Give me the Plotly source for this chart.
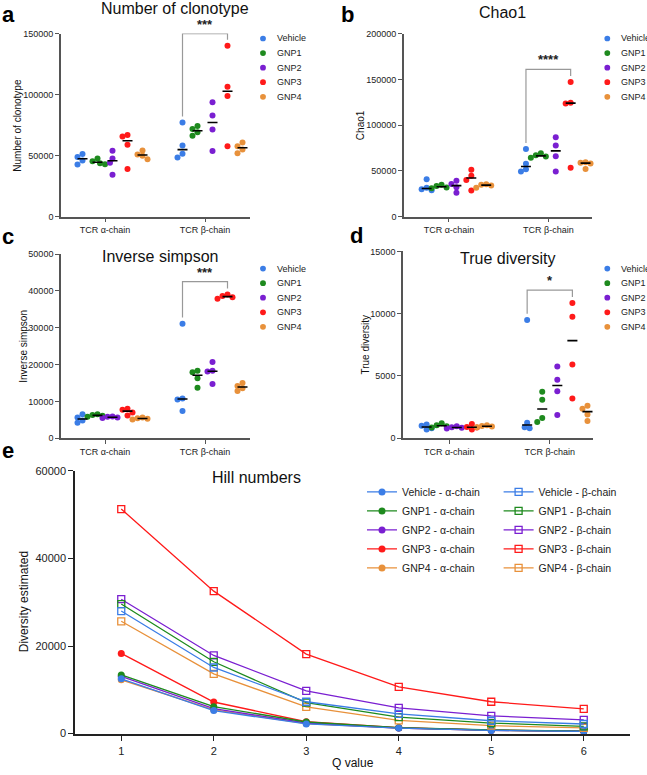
import numpy as np
import plotly.graph_objects as go

W, H = 647, 775
FONT = "Liberation Sans, Arial, Helvetica, sans-serif"
AX = "#555555"

# ---------------- data ----------------
groups = ["Vehicle", "GNP1", "GNP2", "GNP3", "GNP4"]
colors = ["#3B7DE6", "#1E8A1E", "#7A1FD1", "#FF1A1A", "#E8913B"]
chain_labels = ["TCR α-chain", "TCR β-chain"]

# a: Number of clonotype (4 mice per group)
clono_alpha = [[48900, 51400, 46000, 42700], [47600, 45400, 43800, 43000],
               [54000, 47600, 44100, 34400], [66900, 65600, 58900, 39000],
               [54300, 51000, 50000, 47000]]
clono_beta = [[77200, 58300, 51600, 48400], [74200, 71800, 69100, 66400],
              [93800, 82800, 71500, 53800], [140000, 106500, 98900, 57800],
              [60800, 57800, 55100, 51900]]

# b: Chao1
chao_alpha = [[41000, 31500, 30000, 29000], [35000, 33500, 32000, 31000],
              [39300, 35700, 32100, 26100], [51400, 44600, 40000, 28600],
              [35500, 35000, 34000, 31500]]
chao_beta = [[73900, 57800, 51800, 49300], [69300, 67100, 65700, 64300],
             [86700, 77800, 66000, 49300], [147000, 124500, 123500, 53500],
             [59500, 59000, 58000, 52000]]

# c: Inverse simpson
invs_alpha = [[4200, 4800, 5600, 6500], [6500, 6300, 6100, 5800],
              [5900, 5800, 5600, 5500], [8000, 7700, 7000, 6200],
              [5600, 5400, 5300, 5100]]
invs_beta = [[31100, 10800, 10500, 7400], [18300, 17900, 16300, 13700],
             [20700, 18300, 18100, 14700], [39000, 38600, 38300, 37900],
             [15000, 14200, 13600, 12800]]

# d: True diversity
true_alpha = [[1100, 1000, 800, 700], [1200, 1050, 950, 850],
              [950, 880, 830, 780], [1150, 900, 850, 700],
              [1050, 980, 930, 880]]
true_beta = [[9500, 1250, 870, 800], [3740, 3080, 1620, 1300],
             [5760, 4700, 3770, 1860], [10850, 9760, 5920, 3180],
             [2600, 2360, 1910, 1380]]

# e: Hill numbers
q_values = [1, 2, 3, 4, 5, 6]
hill_alpha = [[12500, 5250, 2200, 1250, 720, 500],
              [13400, 6150, 2650, 1330, 800, 560],
              [13050, 5700, 2400, 1280, 760, 520],
              [18300, 7200, 2700, 1350, 780, 540],
              [12300, 5400, 2300, 1250, 740, 500]]
hill_beta = [[28000, 15100, 7270, 4500, 2930, 2180],
             [29600, 16400, 7050, 3750, 2400, 1650],
             [30700, 17850, 9750, 5850, 4050, 3150],
             [51300, 32550, 18150, 10650, 7270, 5625],
             [25650, 13650, 6080, 3000, 1800, 1280]]

# ---------------- layout helpers ----------------
group_offsets = [-0.225, -0.075, 0.075, 0.225, 0.375]


def pxx(p):
    return p / W


def pxy(p):
    return 1 - p / H


def swarm(vals, ppv, ppx, dmin=5.0, step=2.5):
    vals = np.asarray(vals, float)
    order = np.argsort(vals)[::-1]
    placed = []
    offs = [0.0] * len(vals)
    cands = [0.0]
    for j in range(1, 8):
        cands += [-j * step, j * step]
    for i in order:
        py = vals[i] * ppv
        chosen = cands[-1]
        for c in cands:
            if all((c - ox) ** 2 + (py - oy) ** 2 >= dmin ** 2 for ox, oy in placed):
                chosen = c
                break
        placed.append((chosen, py))
        offs[i] = chosen / ppx
    return offs


panels = [
    dict(title="Number of clonotype", alpha=clono_alpha, beta=clono_beta, ymax=150000, dtick=50000,
         stars="***", box=(61, 250, 28, 214), xr=(-0.44, 1.45), title_xy=(175, 2.5), ytitle_x=16.7,
         letter="a", letter_xy=(0, 8.4), legend_xy=(263, 33)),
    dict(title="Chao1", alpha=chao_alpha, beta=chao_beta, ymax=200000, dtick=50000,
         stars="****", box=(404, 592, 28, 214), xr=(-0.453, 1.44), title_xy=(503, 7), ytitle_x=360,
         letter="b", letter_xy=(339, 8.4), legend_xy=(607.3, 33)),
    dict(title="Inverse simpson", alpha=invs_alpha, beta=invs_beta, ymax=50000, dtick=10000,
         stars="***", box=(61, 250, 252, 439), xr=(-0.44, 1.45), title_xy=(160, 254), ytitle_x=22.7,
         letter="c", letter_xy=(0, 234.4), legend_xy=(263, 266.7)),
    dict(title="True diversity", alpha=true_alpha, beta=true_beta, ymax=15000, dtick=5000,
         stars="*", box=(403, 593, 249.3, 439), xr=(-0.46, 1.43), title_xy=(507, 256), ytitle_x=365.7,
         letter="d", letter_xy=(348, 233.4), legend_xy=(607.3, 266.7)),
]

fig = go.Figure()
annotations = []
shapes = []
layout_axes = {}

for pi, p in enumerate(panels):
    sfx = "" if pi == 0 else str(pi + 1)
    xref, yref = "x" + sfx, "y" + sfx
    x0, x1, y0, y1 = p["box"]
    ppx = (x1 - x0) / (p["xr"][1] - p["xr"][0])
    ppv = (y1 - y0) / p["ymax"]
    for ci, chain in enumerate([p["alpha"], p["beta"]]):
        for gi, vals in enumerate(chain):
            center = ci + group_offsets[gi]
            jit = swarm(vals, ppv, ppx)
            fig.add_trace(go.Scatter(
                x=[center + j for j in jit], y=vals, mode="markers", xaxis=xref, yaxis=yref,
                marker=dict(size=6, color=colors[gi], line=dict(width=0)),
                showlegend=False, cliponaxis=False, hoverinfo="y", name=groups[gi]))
        for gi, vals in enumerate(chain):
            center = ci + group_offsets[gi]
            med = float(np.median(vals))
            fig.add_trace(go.Scatter(
                x=[center - 0.05, center + 0.05], y=[med, med], mode="lines", xaxis=xref, yaxis=yref,
                line=dict(color="black", width=1.6), showlegend=False, hoverinfo="skip"))
    # significance bracket Vehicle vs GNP3 (beta chain)
    xa = 1 + group_offsets[0]
    xb = 1 + group_offsets[3]
    va = max(p["beta"][0])
    vb = max(p["beta"][3])
    pad = 0.033 * p["ymax"]
    top = min(max(va, vb) + 0.07 * p["ymax"], p["ymax"])
    shapes.append(dict(type="path", xref=xref, yref=yref,
                       path=f"M {xa},{va + pad} L {xa},{top} L {xb},{top} L {xb},{vb + pad}",
                       line=dict(color="#999999", width=1.2)))
    # star label placed in paper coords so it is never hidden at the range edge
    star_py = y1 - top * ppv
    annotations.append(dict(x=(xa + xb) / 2, y=pxy(star_py), xref=xref, yref="paper", text=p["stars"],
                            showarrow=False, yanchor="bottom", yshift=0,
                            font=dict(size=13, family=FONT, color="#222", weight="bold")))
    # axes
    layout_axes["xaxis" + sfx] = dict(
        domain=[pxx(x0), pxx(x1)], range=list(p["xr"]), anchor=yref, tickvals=[0, 1],
        ticktext=chain_labels, ticks="outside", ticklen=4, tickwidth=1.3, tickcolor=AX,
        showline=True, linecolor=AX, linewidth=1.6, showgrid=False, zeroline=False,
        tickfont=dict(size=9, color="#222", family=FONT), fixedrange=True)
    layout_axes["yaxis" + sfx] = dict(
        domain=[pxy(y1), pxy(y0)], range=[0, p["ymax"]], anchor=xref, dtick=p["dtick"],
        tickformat="d", ticks="outside", ticklen=4, tickwidth=1.3, tickcolor=AX,
        showline=True, linecolor=AX, linewidth=1.6, showgrid=False, zeroline=False,
        tickfont=dict(size=9, color="#222", family=FONT), fixedrange=True)
    # titles
    annotations.append(dict(x=pxx(p["title_xy"][0]), y=pxy(p["title_xy"][1]), xref="paper", yref="paper",
                            text=p["title"], showarrow=False, xanchor="center", yanchor="middle",
                            font=dict(size=16, family=FONT, color="#111")))
    annotations.append(dict(x=pxx(p["ytitle_x"]), y=pxy((y0 + y1) / 2), xref="paper", yref="paper",
                            text=p["title"], showarrow=False, textangle=-90, xanchor="center",
                            yanchor="middle", font=dict(size=10, family=FONT, color="#111")))
    annotations.append(dict(x=pxx(p["letter_xy"][0]), y=pxy(p["letter_xy"][1]), xref="paper", yref="paper",
                            text=p["letter"], showarrow=False, xanchor="left", yanchor="middle",
                            font=dict(size=22, family=FONT, color="#000", weight="bold")))
    # compact legend (same spacing as the reference)
    lx, ly = p["legend_xy"]
    for gi, g in enumerate(groups):
        cy = ly + gi * 14.8
        r = 2.9
        shapes.append(dict(type="circle", xref="paper", yref="paper",
                           x0=pxx(lx - r), x1=pxx(lx + r), y0=pxy(cy + r), y1=pxy(cy - r),
                           fillcolor=colors[gi], line=dict(width=0)))
        annotations.append(dict(x=pxx(lx + 12), y=pxy(cy), xref="paper", yref="paper", text=g,
                                showarrow=False, xanchor="left", yanchor="middle",
                                font=dict(size=9, family=FONT, color="#222")))

# ---------------- panel e ----------------
ex0, ex1, ey0, ey1 = 75, 630, 472.3, 739
for gi in reversed(range(len(groups))):
    fig.add_trace(go.Scatter(
        x=q_values, y=hill_alpha[gi], mode="lines+markers", xaxis="x5", yaxis="y5",
        name=f"{groups[gi]} - α-chain", legend="legend", legendrank=gi + 1,
        line=dict(color=colors[gi], width=1.4),
        marker=dict(symbol="circle", size=7, color=colors[gi]), cliponaxis=False))
for gi in reversed(range(len(groups))):
    fig.add_trace(go.Scatter(
        x=q_values, y=hill_beta[gi], mode="lines+markers", xaxis="x5", yaxis="y5",
        name=f"{groups[gi]} - β-chain", legend="legend2", legendrank=gi + 1,
        line=dict(color=colors[gi], width=1.3),
        marker=dict(symbol="square-open", size=7, color=colors[gi], line=dict(width=1.3, color=colors[gi])),
        cliponaxis=False))

layout_axes["xaxis5"] = dict(
    domain=[pxx(ex0), pxx(ex1)], range=[0.5, 6.5], anchor="y5", tickvals=q_values,
    ticks="outside", ticklen=6, tickwidth=1.4, tickcolor="#222", showline=True, linecolor="#222",
    linewidth=1.6, showgrid=False, zeroline=False, tickfont=dict(size=11, color="#222", family=FONT),
    fixedrange=True)
layout_axes["yaxis5"] = dict(
    domain=[pxy(ey1), pxy(ey0)], range=[0, 60000], anchor="x5", dtick=20000, tickformat="d",
    ticks="outside", ticklen=5, tickwidth=1.4, tickcolor="#222", showline=True, linecolor="#222",
    linewidth=1.6, showgrid=False, zeroline=False, tickfont=dict(size=11, color="#222", family=FONT),
    fixedrange=True)

annotations.append(dict(x=pxx(256.6), y=pxy(479), xref="paper", yref="paper", text="Hill numbers",
                        showarrow=False, xanchor="center", yanchor="middle",
                        font=dict(size=16, family=FONT, color="#111")))
annotations.append(dict(x=pxx(24), y=pxy((ey0 + ey1) / 2), xref="paper", yref="paper",
                        text="Diversity estimated", showarrow=False, textangle=-90, xanchor="center",
                        yanchor="middle", font=dict(size=12, family=FONT, color="#111")))
annotations.append(dict(x=pxx((ex0 + ex1) / 2), y=pxy(769), xref="paper", yref="paper", text="Q value",
                        showarrow=False, xanchor="center", yanchor="middle",
                        font=dict(size=12, family=FONT, color="#111")))
annotations.append(dict(x=pxx(0), y=pxy(451), xref="paper", yref="paper", text="e",
                        showarrow=False, xanchor="left", yanchor="middle",
                        font=dict(size=22, family=FONT, color="#000", weight="bold")))

legend_common = dict(xanchor="left", yanchor="top", bgcolor="rgba(0,0,0,0)", borderwidth=0,
                     itemwidth=30, tracegroupgap=0,
                     font=dict(size=10.5, family=FONT, color="#222"))

fig.update_layout(
    width=W, height=H, autosize=False,
    margin=dict(l=0, r=0, t=0, b=0),
    paper_bgcolor="white", plot_bgcolor="white",
    font=dict(family=FONT),
    showlegend=True,
    legend=dict(x=pxx(362), y=pxy(478.8), **legend_common),
    legend2=dict(x=pxx(498.6), y=pxy(478.8), **legend_common),
    annotations=annotations, shapes=shapes,
    **layout_axes,
)

fig.write_html("out.html", config={"displayModeBar": False})
